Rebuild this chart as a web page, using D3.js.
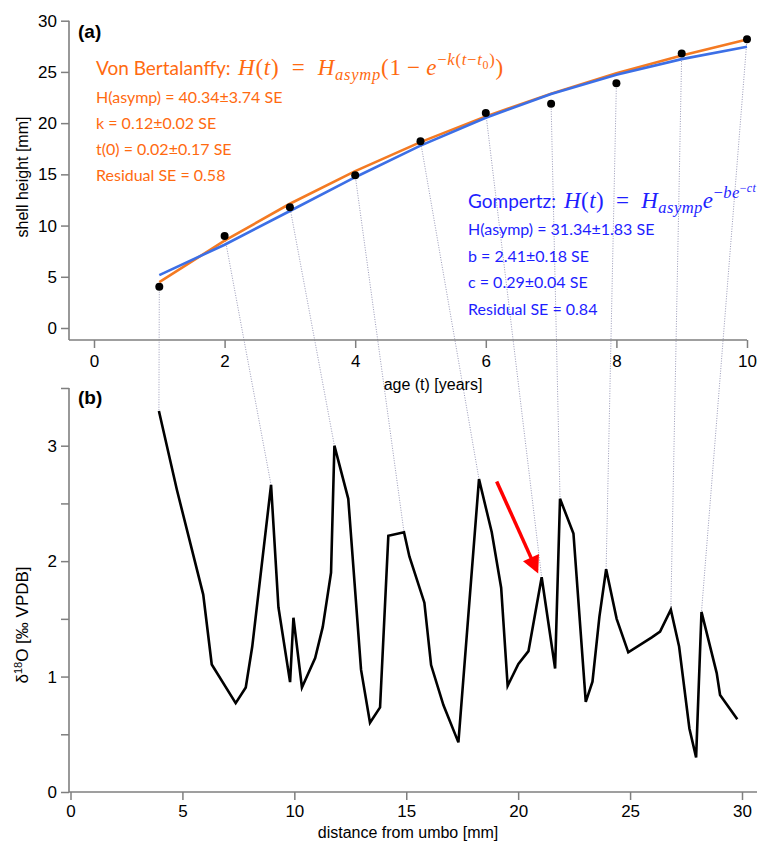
<!DOCTYPE html>
<html>
<head>
<meta charset="utf-8">
<script src="https://cdn.jsdelivr.net/npm/d3@7"></script>
<style>
  html, body { margin: 0; padding: 0; background: #fff; }
  svg { display: block; }
</style>
</head>
<body>
<svg id="chart" width="761" height="846"></svg>
<script>
// ---------------- DATA ----------------
// (a) shell height vs age
const ageYears = [1, 2, 3, 4, 5, 6, 7, 8, 9, 10];
const shellHeight = [4.03, 8.98, 11.8, 14.9, 18.23, 21.0, 21.9, 23.9, 26.8, 28.2];
// fitted curves (value at each age)
const vonBertalanffyFit = [4.47, 8.53, 12.13, 15.32, 18.15, 20.66, 22.88, 24.86, 26.61, 28.16];
const gompertzFit = [5.16, 8.13, 11.42, 14.72, 17.80, 20.53, 22.84, 24.73, 26.25, 27.45];
const topXTicks = [0, 2, 4, 6, 8, 10];
const topYTicks = [0, 5, 10, 15, 20, 25, 30];

const vbLines = ["H(asymp) = 40.34\u00b13.74 SE", "k = 0.12\u00b10.02 SE", "t(0) = 0.02\u00b10.17 SE", "Residual SE = 0.58"];
const gzLines = ["H(asymp) = 31.34\u00b11.83 SE", "b = 2.41\u00b10.18 SE", "c = 0.29\u00b10.04 SE", "Residual SE = 0.84"];

// (b) d18O profile vs distance from umbo
const distanceMm = [3.95, 4.75, 5.93, 6.31, 7.38, 7.83, 8.12, 8.96, 9.29, 9.81, 9.96, 10.34, 10.93, 11.27, 11.64, 11.79, 12.41, 12.98, 13.38, 13.83, 14.2, 14.9, 15.14, 15.81, 16.11, 16.66, 17.33, 18.25, 18.82, 19.24, 19.53, 20.01, 20.46, 21.05, 21.65, 21.87, 22.47, 23.02, 23.32, 23.63, 23.93, 24.4, 24.92, 25.97, 26.34, 26.82, 27.19, 27.65, 27.95, 28.19, 28.87, 29.02, 29.79];
const d18O = [3.30, 2.62, 1.71, 1.105, 0.77, 0.906, 1.26, 2.66, 1.60, 0.952, 1.51, 0.906, 1.16, 1.43, 1.90, 3.00, 2.54, 1.06, 0.60, 0.733, 2.22, 2.25, 2.04, 1.64, 1.10, 0.753, 0.43, 2.71, 2.25, 1.77, 0.92, 1.11, 1.22, 1.86, 1.07, 2.54, 2.24, 0.78, 0.955, 1.52, 1.93, 1.50, 1.21, 1.34, 1.39, 1.58, 1.26, 0.55, 0.30, 1.56, 1.03, 0.84, 0.63];
// annual markers: distance of the d18O point linked to each age
const annualPeakDistance = [3.95, 8.96, 11.79, 14.9, 18.25, 21.05, 21.87, 23.93, 26.82, 28.19];
const botXTicks = [0, 5, 10, 15, 20, 25, 30];
const botYTicks = [0, 0.5, 1, 1.5, 2, 2.5, 3, 3.5];
// red arrow (from, to) in data units of panel (b)
const arrowFrom = [19.04, 2.69];
const arrowTo = [20.83, 1.92];

// ---------------- STYLE ----------------
const ORANGE_TXT = "#FF6A10";
const ORANGE_LINE = "#F47A22";
const BLUE_TXT = "#1E1EFF";
const BLUE_LINE = "#3C6FE6";
const AXIS = "#7f7f7f";
const CONNECT = "#9a9ab8";
const SANS = "'Liberation Sans', Arial, sans-serif";
const CAL = "Lato, 'Open Sans', sans-serif";
const SERIF = "'Liberation Serif', 'Times New Roman', serif";

const svg = d3.select("#chart");

// ---------------- SCALES ----------------
const xTop = d3.scaleLinear().domain([0, 10]).range([94, 747]);
const yTop = d3.scaleLinear().domain([0, 30]).range([328, 20.7]);
const xBot = d3.scaleLinear().domain([0, 30]).range([70.5, 742]);
const yBot = d3.scaleLinear().domain([0, 3]).range([792, 445.7]);

// ---------------- CONNECTORS (dotted) ----------------
const gConn = svg.append("g");
ageYears.forEach((t, i) => {
  const j = distanceMm.indexOf(annualPeakDistance[i]);
  gConn.append("line")
    .attr("x1", xTop(t)).attr("y1", yTop(shellHeight[i]))
    .attr("x2", xBot(distanceMm[j])).attr("y2", yBot(d18O[j]))
    .attr("stroke", CONNECT).attr("stroke-width", 1)
    .attr("stroke-dasharray", "1,1.5");
});

// ---------------- AXES helper ----------------
function styleAxis(g) {
  g.select(".domain").remove();
  g.selectAll(".tick line").attr("stroke", AXIS).attr("stroke-width", 1.5);
  g.selectAll(".tick text").attr("fill", "#000").style("font-family", SANS).style("font-size", "17px");
}

// ----- panel (a) axes -----
svg.append("line").attr("x1", 69).attr("x2", 69).attr("y1", yTop(30)).attr("y2", 340)
  .attr("stroke", AXIS).attr("stroke-width", 1.6);
svg.append("line").attr("x1", 69).attr("x2", xTop(10)).attr("y1", 340).attr("y2", 340)
  .attr("stroke", AXIS).attr("stroke-width", 1.6);
svg.append("g").attr("transform", "translate(69,0)")
  .call(d3.axisLeft(yTop).tickValues(topYTicks).tickSize(8).tickPadding(4).tickSizeOuter(0))
  .call(styleAxis);
svg.append("g").attr("transform", "translate(0,340)")
  .call(d3.axisBottom(xTop).tickValues(topXTicks).tickSize(8).tickPadding(7).tickSizeOuter(0))
  .call(styleAxis);

svg.append("text").attr("x", 433).attr("y", 390).attr("text-anchor", "middle")
  .style("font-family", SANS).style("font-size", "16px").text("age (t) [years]");
svg.append("text").attr("transform", "translate(28,177) rotate(-90)").attr("text-anchor", "middle")
  .style("font-family", SANS).style("font-size", "16px").text("shell height [mm]");
svg.append("text").attr("x", 78).attr("y", 38)
  .style("font-family", SANS).style("font-size", "19px").style("font-weight", "bold").text("(a)");

// ----- panel (a) marks -----
const lineTop = d3.line().x((d, i) => xTop(ageYears[i])).y(d => yTop(d));
svg.append("path").datum(vonBertalanffyFit).attr("d", lineTop)
  .attr("fill", "none").attr("stroke", ORANGE_LINE).attr("stroke-width", 2.6);
svg.append("path").datum(gompertzFit).attr("d", lineTop)
  .attr("fill", "none").attr("stroke", BLUE_LINE).attr("stroke-width", 2.6);
svg.append("g").selectAll("circle").data(shellHeight).join("circle")
  .attr("cx", (d, i) => xTop(ageYears[i])).attr("cy", d => yTop(d)).attr("r", 4)
  .attr("fill", "#000");

// ----- equation helper (fits to a target width with letter spacing) -----
function mathText(x, y, size, color, parts, targetW) {
  const t = svg.append("text").attr("x", x).attr("y", y)
    .style("font-family", SERIF).style("font-size", size + "px").attr("fill", color);
  const lv = {0: [0, 1], sub: [5, 0.72], sup: [-9, 0.72], supsub: [-5.5, 0.52], supsup: [-15, 0.52]};
  let n = 0;
  parts.forEach(p => {
    const [dy, sc] = lv[p.l || 0];
    t.append("tspan").attr("y", y + dy * size / 21)
      .style("font-size", (size * sc) + "px")
      .style("font-style", p.i ? "italic" : "normal")
      .text(p.s);
    n += p.s.length;
  });
  const w = t.node().getBBox().width;
  if (targetW && w > 0) t.style("letter-spacing", ((targetW - w) / n) + "px");
  return t;
}

// Von Bertalanffy block
svg.append("text").attr("x", 96).attr("y", 75).attr("fill", ORANGE_TXT)
  .style("font-family", CAL).style("font-size", "19px").text("Von Bertalanffy:");
mathText(238, 75, 23, ORANGE_TXT, [
  {s: "H", i: 1}, {s: "("}, {s: "t", i: 1}, {s: ")\u2002=\u2002"}, {s: "H", i: 1},
  {s: "asymp", i: 1, l: "sub"}, {s: "(1\u2009\u2212\u2009"}, {s: "e", i: 1},
  {s: "\u2212", l: "sup"}, {s: "k", i: 1, l: "sup"}, {s: "(", l: "sup"}, {s: "t", i: 1, l: "sup"},
  {s: "\u2212", l: "sup"}, {s: "t", i: 1, l: "sup"}, {s: "0", l: "supsub"}, {s: ")", l: "sup"}, {s: ")"}
], 267);
vbLines.forEach((s, i) => {
  svg.append("text").attr("x", 96).attr("y", 103 + i * 26).attr("fill", ORANGE_TXT)
    .style("font-family", CAL).style("font-size", "16px").text(s);
});

// Gompertz block
svg.append("text").attr("x", 468).attr("y", 208).attr("fill", BLUE_TXT)
  .style("font-family", CAL).style("font-size", "19px").text("Gompertz:");
mathText(564, 208, 23, BLUE_TXT, [
  {s: "H", i: 1}, {s: "("}, {s: "t", i: 1}, {s: ")\u2002=\u2002"}, {s: "H", i: 1},
  {s: "asymp", i: 1, l: "sub"}, {s: "e", i: 1},
  {s: "\u2212", l: "sup"}, {s: "be", i: 1, l: "sup"}, {s: "\u2212", l: "supsup"}, {s: "ct", i: 1, l: "supsup"}
], 194);
gzLines.forEach((s, i) => {
  svg.append("text").attr("x", 468).attr("y", 235 + i * 26.7).attr("fill", BLUE_TXT)
    .style("font-family", CAL).style("font-size", "16px").text(s);
});

// ----- panel (b) axes -----
svg.append("line").attr("x1", 69).attr("x2", 69).attr("y1", yBot(3.5)).attr("y2", 792)
  .attr("stroke", AXIS).attr("stroke-width", 1.6);
svg.append("line").attr("x1", 69).attr("x2", 757).attr("y1", 792).attr("y2", 792)
  .attr("stroke", AXIS).attr("stroke-width", 1.6);
svg.append("g").attr("transform", "translate(69,0)")
  .call(d3.axisLeft(yBot).tickValues(botYTicks).tickSize(8).tickPadding(4).tickSizeOuter(0)
    .tickFormat(d => Number.isInteger(d) ? d : ""))
  .call(styleAxis);
svg.append("g").attr("transform", "translate(0,792)")
  .call(d3.axisBottom(xBot).tickValues(botXTicks).tickSize(8).tickPadding(5).tickSizeOuter(0))
  .call(styleAxis);

svg.append("text").attr("x", 408).attr("y", 838).attr("text-anchor", "middle")
  .style("font-family", SANS).style("font-size", "16px").text("distance from umbo [mm]");
const yl = svg.append("text").attr("transform", "translate(28,625) rotate(-90)").attr("text-anchor", "middle")
  .style("font-family", SANS).style("font-size", "17px");
yl.append("tspan").text("\u03b4");
yl.append("tspan").attr("dy", -6).style("font-size", "11px").text("18");
yl.append("tspan").attr("dy", 6).text("O [\u2030 VPDB]");
svg.append("text").attr("x", 78).attr("y", 404)
  .style("font-family", SANS).style("font-size", "19px").style("font-weight", "bold").text("(b)");

// ----- panel (b) marks -----
const lineBot = d3.line().x((d, i) => xBot(distanceMm[i])).y(d => yBot(d));
svg.append("path").datum(d18O).attr("d", lineBot)
  .attr("fill", "none").attr("stroke", "#000").attr("stroke-width", 2.6)
  .attr("stroke-linejoin", "miter");

// red arrow
svg.append("defs").append("marker").attr("id", "ah")
  .attr("viewBox", "0 0 10 10").attr("refX", 8).attr("refY", 5)
  .attr("markerWidth", 6).attr("markerHeight", 5).attr("markerUnits", "strokeWidth")
  .attr("orient", "auto")
  .append("path").attr("d", "M0,0 L10,5 L0,10 Z").attr("fill", "#FF0000");
svg.append("line")
  .attr("x1", xBot(arrowFrom[0])).attr("y1", yBot(arrowFrom[1]))
  .attr("x2", xBot(arrowTo[0])).attr("y2", yBot(arrowTo[1]))
  .attr("stroke", "#FF0000").attr("stroke-width", 3.5)
  .attr("marker-end", "url(#ah)");
</script>
</body>
</html>
